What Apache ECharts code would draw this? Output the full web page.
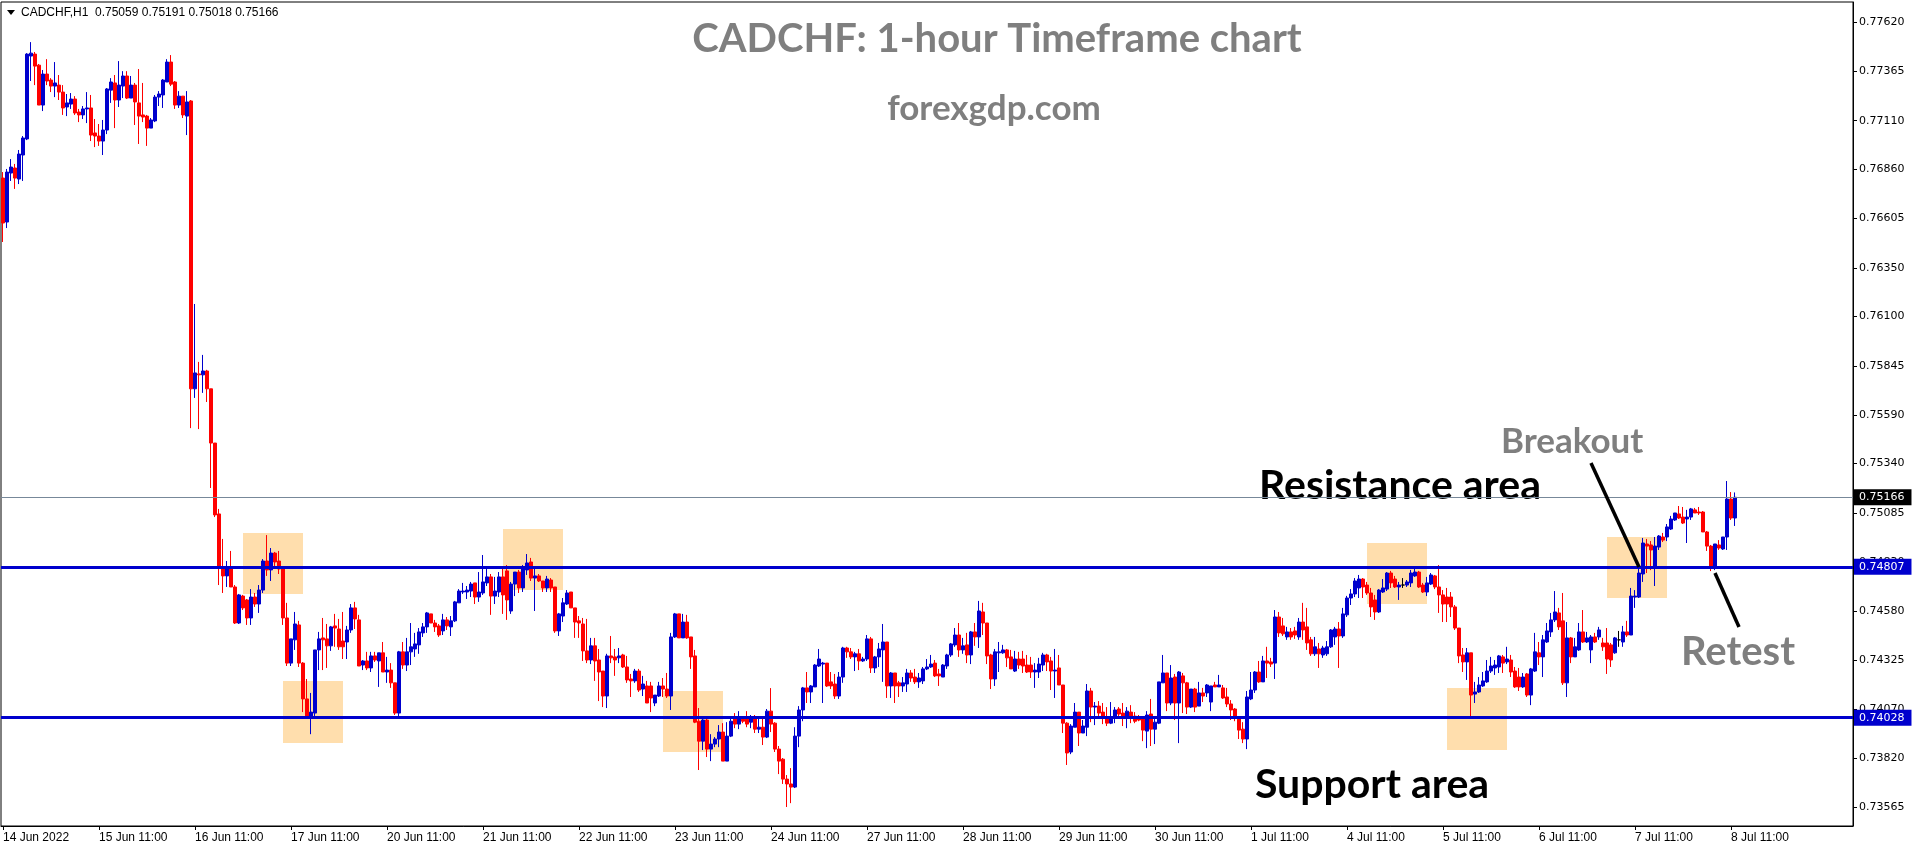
<!DOCTYPE html>
<html>
<head>
<meta charset="utf-8">
<script src="https://cdn.jsdelivr.net/npm/echarts/dist/echarts.min.js"></script>
<style>
html,body{margin:0;padding:0;background:#fff;}
#chart{width:1916px;height:850px;}
</style>
</head>
<body>
<div id="chart"></div>
<script>
// ---- Data (CADCHF H1, 14 Jun 2022 11:00 .. 8 Jul 2022 12:00) ----
const symbol = 'CADCHF,H1';
const tickLabels = ['14 Jun 2022','15 Jun 11:00','16 Jun 11:00','17 Jun 11:00','20 Jun 11:00','21 Jun 11:00','22 Jun 11:00','23 Jun 11:00','24 Jun 11:00','27 Jun 11:00','28 Jun 11:00','29 Jun 11:00','30 Jun 11:00','1 Jul 11:00','4 Jul 11:00','5 Jul 11:00','6 Jul 11:00','7 Jul 11:00','8 Jul 11:00'];
const priceTicks = [0.77620,0.77365,0.77110,0.76860,0.76605,0.76350,0.76100,0.75845,0.75590,0.75340,0.75085,0.74830,0.74580,0.74325,0.74070,0.73820,0.73565];
const resistanceLevel = 0.74807;
const supportLevel = 0.74028;

const open = [
0.76814,0.76587,0.76840,0.76866,0.76809,0.76933,0.77016,0.77444,0.77454,0.77397,
0.77191,0.77351,0.77320,0.77289,0.77294,0.77258,0.77181,0.77196,0.77222,0.77155,
0.77140,0.77171,0.77176,0.77047,0.77031,0.77005,0.77062,0.77268,0.77305,0.77217,
0.77289,0.77341,0.77227,0.77294,0.77202,0.77140,0.77134,0.77072,0.77109,0.77232,
0.77243,0.77310,0.77413,0.77310,0.77191,0.77237,0.77134,0.77212,0.75726,0.75803,
0.75798,0.75818,0.75726,0.75446,0.75080,0.74806,0.74760,0.74801,0.74703,0.74517,
0.74656,0.74636,0.74543,0.74651,0.74615,0.74687,0.74837,0.74791,0.74878,0.74837,
0.74801,0.74543,0.74310,0.74430,0.74507,0.74310,0.74125,0.74036,0.74052,0.74378,
0.74440,0.74435,0.74399,0.74502,0.74486,0.74424,0.74419,0.74481,0.74595,0.74533,
0.74300,0.74321,0.74285,0.74347,0.74321,0.74363,0.74264,0.74274,0.74208,0.74052,
0.74368,0.74300,0.74368,0.74383,0.74404,0.74466,0.74497,0.74564,0.74517,0.74502,
0.74476,0.74533,0.74497,0.74528,0.74621,0.74677,0.74677,0.74682,0.74724,0.74651,
0.74672,0.74724,0.74755,0.74656,0.74677,0.74755,0.74786,0.74579,0.74718,0.74780,
0.74698,0.74791,0.74832,0.74749,0.74760,0.74734,0.74698,0.74739,0.74703,0.74476,
0.74553,0.74615,0.74677,0.74595,0.74528,0.74512,0.74373,0.74326,0.74399,0.74326,
0.74269,0.74140,0.74347,0.74342,0.74337,0.74352,0.74290,0.74228,0.74218,0.74269,
0.74176,0.74192,0.74192,0.74104,0.74140,0.74192,0.74176,0.74140,0.74445,0.74564,
0.74440,0.74522,0.74445,0.74347,0.74010,0.73907,0.74016,0.73866,0.73892,0.73918,
0.73954,0.73804,0.73933,0.74021,0.73995,0.74021,0.74021,0.74005,0.74026,0.73969,
0.73979,0.73928,0.74062,0.74000,0.73866,0.73814,0.73711,0.73686,0.73670,0.73933,
0.74068,0.74182,0.74161,0.74187,0.74295,0.74305,0.74310,0.74213,0.74202,0.74140,
0.74238,0.74388,0.74368,0.74342,0.74358,0.74321,0.74331,0.74435,0.74285,0.74342,
0.74378,0.74419,0.74192,0.74259,0.74208,0.74192,0.74202,0.74259,0.74238,0.74213,
0.74218,0.74280,0.74290,0.74310,0.74254,0.74238,0.74295,0.74352,0.74404,0.74455,
0.74378,0.74404,0.74352,0.74471,0.74445,0.74574,0.74517,0.74352,0.74228,0.74363,
0.74363,0.74378,0.74342,0.74269,0.74331,0.74331,0.74300,0.74300,0.74264,0.74264,
0.74300,0.74352,0.74321,0.74269,0.74285,0.74197,0.74000,0.73851,0.73979,0.74057,
0.73949,0.73979,0.74166,0.74083,0.74088,0.74057,0.74031,0.74000,0.74031,0.74073,
0.74052,0.74036,0.74057,0.74036,0.74021,0.74021,0.73959,0.74047,0.73969,0.74000,
0.74208,0.74259,0.74104,0.74238,0.74104,0.74244,0.74208,0.74083,0.74176,0.74088,
0.74156,0.74156,0.74109,0.74197,0.74187,0.74182,0.74135,0.74099,0.74073,0.74021,
0.73969,0.73918,0.74125,0.74171,0.74264,0.74213,0.74321,0.74316,0.74310,0.74548,
0.74502,0.74445,0.74471,0.74476,0.74445,0.74522,0.74497,0.74430,0.74358,0.74383,
0.74352,0.74358,0.74394,0.74445,0.74486,0.74450,0.74559,0.74646,0.74667,0.74698,
0.74744,0.74713,0.74672,0.74636,0.74574,0.74677,0.74692,0.74775,0.74744,0.74703,
0.74713,0.74713,0.74724,0.74760,0.74780,0.74713,0.74677,0.74718,0.74760,0.74703,
0.74662,0.74651,0.74651,0.74600,0.74491,0.74352,0.74316,0.74363,0.74150,0.74161,
0.74192,0.74213,0.74269,0.74285,0.74290,0.74342,0.74316,0.74326,0.74269,0.74238,
0.74187,0.74254,0.74145,0.74269,0.74363,0.74342,0.74419,0.74471,0.74533,0.74569,
0.74528,0.74208,0.74440,0.74342,0.74378,0.74471,0.74419,0.74378,0.74445,0.74445,
0.74414,0.74414,0.74404,0.74363,0.74430,0.74419,0.74471,0.74455,0.74651,0.74651,
0.74770,0.74925,0.74920,0.74801,0.74909,0.74961,0.74961,0.75002,0.75049,0.75080,
0.75064,0.75054,0.75064,0.75101,0.75090,0.75090,0.74987,0.74914,0.74806,0.74920,
0.74899,0.74961,0.75157,0.75059];

const high = [
0.76845,0.76861,0.76912,0.76887,0.76959,0.77031,0.77459,0.77516,0.77465,0.77403,
0.77372,0.77428,0.77330,0.77413,0.77346,0.77294,0.77248,0.77253,0.77237,0.77171,
0.77186,0.77258,0.77243,0.77119,0.77093,0.77114,0.77279,0.77330,0.77346,0.77418,
0.77366,0.77366,0.77341,0.77305,0.77377,0.77305,0.77140,0.77124,0.77243,0.77263,
0.77325,0.77428,0.77449,0.77315,0.77263,0.77237,0.77263,0.77217,0.76164,0.75865,
0.75901,0.75824,0.75726,0.75446,0.75106,0.74951,0.74837,0.74889,0.74713,0.74667,
0.74662,0.74641,0.74692,0.74672,0.74713,0.74847,0.74971,0.74904,0.74884,0.74889,
0.74801,0.74621,0.74435,0.74574,0.74528,0.74315,0.74228,0.74156,0.74378,0.74471,
0.74543,0.74512,0.74502,0.74564,0.74538,0.74574,0.74502,0.74615,0.74626,0.74559,
0.74326,0.74368,0.74368,0.74368,0.74363,0.74419,0.74342,0.74310,0.74208,0.74373,
0.74419,0.74440,0.74517,0.74466,0.74491,0.74517,0.74574,0.74564,0.74533,0.74512,
0.74564,0.74548,0.74553,0.74631,0.74692,0.74724,0.74708,0.74729,0.74724,0.74780,
0.74868,0.74801,0.74770,0.74755,0.74780,0.74811,0.74816,0.74729,0.74780,0.74791,
0.74816,0.74873,0.74853,0.74806,0.74770,0.74734,0.74760,0.74749,0.74703,0.74569,
0.74646,0.74687,0.74677,0.74595,0.74553,0.74543,0.74538,0.74440,0.74440,0.74383,
0.74269,0.74358,0.74450,0.74383,0.74388,0.74358,0.74347,0.74254,0.74280,0.74280,
0.74244,0.74218,0.74213,0.74145,0.74213,0.74233,0.74259,0.74466,0.74569,0.74564,
0.74564,0.74559,0.74445,0.74378,0.74078,0.74021,0.74026,0.73943,0.73928,0.73990,
0.74000,0.74005,0.74026,0.74052,0.74062,0.74036,0.74062,0.74042,0.74042,0.74031,
0.74026,0.74073,0.74181,0.74005,0.73882,0.73820,0.73732,0.73768,0.73979,0.74088,
0.74187,0.74264,0.74197,0.74305,0.74383,0.74316,0.74310,0.74264,0.74254,0.74264,
0.74394,0.74394,0.74388,0.74368,0.74383,0.74342,0.74455,0.74445,0.74347,0.74414,
0.74512,0.74419,0.74264,0.74259,0.74218,0.74238,0.74280,0.74274,0.74280,0.74259,
0.74290,0.74331,0.74352,0.74326,0.74280,0.74305,0.74358,0.74414,0.74491,0.74517,
0.74440,0.74466,0.74476,0.74517,0.74631,0.74621,0.74517,0.74358,0.74383,0.74419,
0.74404,0.74383,0.74378,0.74373,0.74368,0.74373,0.74352,0.74342,0.74310,0.74337,
0.74363,0.74358,0.74342,0.74383,0.74352,0.74197,0.74005,0.73995,0.74104,0.74057,
0.74016,0.74202,0.74182,0.74109,0.74114,0.74104,0.74083,0.74109,0.74083,0.74083,
0.74104,0.74083,0.74093,0.74057,0.74042,0.74036,0.74062,0.74125,0.74021,0.74213,
0.74352,0.74259,0.74300,0.74254,0.74269,0.74259,0.74213,0.74176,0.74182,0.74213,
0.74182,0.74202,0.74192,0.74213,0.74249,0.74197,0.74182,0.74119,0.74078,0.74021,
0.74005,0.74166,0.74264,0.74269,0.74321,0.74347,0.74394,0.74337,0.74584,0.74574,
0.74543,0.74497,0.74491,0.74497,0.74543,0.74621,0.74595,0.74445,0.74445,0.74414,
0.74399,0.74424,0.74486,0.74497,0.74522,0.74595,0.74657,0.74692,0.74749,0.74765,
0.74749,0.74729,0.74698,0.74662,0.74692,0.74744,0.74780,0.74786,0.74760,0.74729,
0.74749,0.74739,0.74791,0.74801,0.74786,0.74724,0.74755,0.74775,0.74765,0.74816,
0.74687,0.74698,0.74677,0.74610,0.74491,0.74388,0.74388,0.74363,0.74213,0.74238,
0.74264,0.74326,0.74342,0.74326,0.74352,0.74352,0.74394,0.74352,0.74290,0.74285,
0.74259,0.74259,0.74285,0.74466,0.74419,0.74455,0.74517,0.74569,0.74682,0.74595,
0.74672,0.74522,0.74445,0.74440,0.74517,0.74584,0.74471,0.74455,0.74466,0.74497,
0.74440,0.74491,0.74414,0.74445,0.74476,0.74502,0.74528,0.74698,0.74687,0.74816,
0.74956,0.74951,0.74940,0.74961,0.74971,0.74982,0.75028,0.75070,0.75085,0.75121,
0.75116,0.75101,0.75111,0.75111,0.75116,0.75095,0.74992,0.74920,0.74925,0.74945,
0.74961,0.75250,0.75193,0.75191];

const low = [
0.76484,0.76556,0.76799,0.76758,0.76783,0.76799,0.77010,0.77315,0.77294,0.77191,
0.77160,0.77294,0.77258,0.77232,0.77217,0.77140,0.77134,0.77171,0.77140,0.77103,
0.77119,0.77098,0.77005,0.76974,0.76980,0.76933,0.77041,0.77202,0.77072,0.77181,
0.77227,0.77222,0.77227,0.77088,0.76990,0.77103,0.76980,0.77072,0.77103,0.77186,
0.77176,0.77310,0.77289,0.77171,0.77176,0.77124,0.77036,0.75523,0.75679,0.75518,
0.75705,0.75658,0.75214,0.75064,0.74713,0.74672,0.74703,0.74703,0.74512,0.74512,
0.74584,0.74507,0.74507,0.74600,0.74569,0.74672,0.74760,0.74734,0.74806,0.74770,
0.74507,0.74295,0.74295,0.74378,0.74290,0.74057,0.74036,0.73943,0.74031,0.74274,
0.74274,0.74285,0.74373,0.74394,0.74378,0.74331,0.74331,0.74466,0.74486,0.74295,
0.74274,0.74274,0.74264,0.74316,0.74187,0.74264,0.74208,0.74182,0.74042,0.74036,
0.74280,0.74269,0.74300,0.74342,0.74358,0.74445,0.74466,0.74517,0.74471,0.74445,
0.74455,0.74481,0.74450,0.74522,0.74621,0.74667,0.74641,0.74651,0.74615,0.74626,
0.74662,0.74708,0.74559,0.74615,0.74651,0.74564,0.74533,0.74564,0.74656,0.74672,
0.74677,0.74765,0.74734,0.74579,0.74729,0.74677,0.74677,0.74677,0.74466,0.74450,
0.74522,0.74610,0.74595,0.74440,0.74440,0.74321,0.74310,0.74305,0.74218,0.74114,
0.74083,0.74078,0.74310,0.74244,0.74310,0.74285,0.74208,0.74135,0.74208,0.74161,
0.74140,0.74104,0.74057,0.74088,0.74135,0.74135,0.74130,0.74068,0.74440,0.74440,
0.74440,0.74435,0.74280,0.74000,0.73758,0.73861,0.73825,0.73804,0.73876,0.73876,
0.73804,0.73804,0.73928,0.73974,0.73969,0.74000,0.73979,0.73974,0.73949,0.73949,
0.73887,0.73923,0.73954,0.73851,0.73737,0.73686,0.73567,0.73587,0.73665,0.73876,
0.74010,0.74104,0.74104,0.74187,0.74290,0.74104,0.74187,0.74176,0.74125,0.74125,
0.74208,0.74337,0.74331,0.74269,0.74274,0.74316,0.74321,0.74259,0.74259,0.74290,
0.74213,0.74130,0.74130,0.74104,0.74135,0.74161,0.74161,0.74213,0.74202,0.74182,
0.74202,0.74274,0.74285,0.74238,0.74192,0.74238,0.74280,0.74342,0.74394,0.74342,
0.74358,0.74310,0.74305,0.74399,0.74388,0.74455,0.74305,0.74176,0.74192,0.74264,
0.74358,0.74290,0.74280,0.74264,0.74280,0.74259,0.74259,0.74233,0.74182,0.74233,
0.74269,0.74269,0.74171,0.74130,0.74197,0.73949,0.73784,0.73840,0.73979,0.73882,
0.73949,0.73933,0.74005,0.73990,0.74026,0.73995,0.73985,0.73995,0.74000,0.74031,
0.73985,0.73974,0.74000,0.74000,0.74010,0.73907,0.73871,0.73882,0.73892,0.73995,
0.74208,0.74062,0.74093,0.74016,0.73897,0.74052,0.74047,0.74078,0.74057,0.74088,
0.74109,0.74135,0.74062,0.74187,0.74187,0.74125,0.74083,0.74016,0.74010,0.73918,
0.73897,0.73866,0.74119,0.74156,0.74208,0.74213,0.74233,0.74290,0.74228,0.74445,
0.74450,0.74430,0.74430,0.74435,0.74430,0.74430,0.74378,0.74347,0.74347,0.74285,
0.74337,0.74347,0.74388,0.74404,0.74285,0.74440,0.74548,0.74610,0.74651,0.74646,
0.74646,0.74662,0.74548,0.74533,0.74569,0.74672,0.74682,0.74698,0.74698,0.74636,
0.74698,0.74703,0.74703,0.74755,0.74698,0.74672,0.74656,0.74713,0.74692,0.74569,
0.74522,0.74522,0.74548,0.74481,0.74310,0.74264,0.74223,0.74031,0.74104,0.74156,
0.74187,0.74208,0.74259,0.74249,0.74259,0.74259,0.74305,0.74238,0.74182,0.74166,
0.74182,0.74135,0.74093,0.74264,0.74300,0.74238,0.74414,0.74445,0.74522,0.74481,
0.74197,0.74135,0.74310,0.74342,0.74373,0.74414,0.74414,0.74310,0.74414,0.74430,
0.74373,0.74254,0.74290,0.74358,0.74394,0.74394,0.74445,0.74455,0.74595,0.74646,
0.74729,0.74775,0.74790,0.74708,0.74894,0.74935,0.74940,0.74997,0.75044,0.75054,
0.75028,0.74930,0.75049,0.75085,0.75075,0.74987,0.74889,0.74785,0.74790,0.74894,
0.74894,0.74894,0.75049,0.75018];

const close = [
0.76582,0.76845,0.76871,0.76814,0.76938,0.77021,0.77454,0.77459,0.77392,0.77191,
0.77351,0.77315,0.77289,0.77305,0.77258,0.77176,0.77202,0.77222,0.77150,0.77140,
0.77171,0.77176,0.77036,0.77031,0.77005,0.77062,0.77274,0.77310,0.77217,0.77294,
0.77341,0.77227,0.77294,0.77207,0.77134,0.77129,0.77072,0.77114,0.77232,0.77248,
0.77320,0.77413,0.77299,0.77191,0.77237,0.77140,0.77207,0.75726,0.75808,0.75798,
0.75818,0.75726,0.75446,0.75075,0.74806,0.74760,0.74801,0.74703,0.74517,0.74662,
0.74595,0.74543,0.74651,0.74615,0.74687,0.74837,0.74791,0.74878,0.74832,0.74796,
0.74543,0.74310,0.74435,0.74512,0.74310,0.74125,0.74036,0.74057,0.74378,0.74435,
0.74430,0.74399,0.74497,0.74491,0.74394,0.74394,0.74481,0.74595,0.74538,0.74295,
0.74321,0.74285,0.74347,0.74326,0.74363,0.74264,0.74274,0.74208,0.74052,0.74368,
0.74300,0.74368,0.74394,0.74409,0.74471,0.74497,0.74569,0.74517,0.74497,0.74455,
0.74533,0.74502,0.74528,0.74626,0.74682,0.74682,0.74687,0.74718,0.74651,0.74677,
0.74729,0.74755,0.74656,0.74682,0.74755,0.74662,0.74636,0.74718,0.74780,0.74698,
0.74796,0.74827,0.74749,0.74760,0.74734,0.74698,0.74744,0.74698,0.74476,0.74564,
0.74621,0.74672,0.74595,0.74522,0.74517,0.74373,0.74326,0.74399,0.74321,0.74264,
0.74140,0.74347,0.74337,0.74326,0.74347,0.74290,0.74223,0.74218,0.74269,0.74171,
0.74202,0.74104,0.74130,0.74145,0.74192,0.74176,0.74140,0.74445,0.74564,0.74440,
0.74522,0.74440,0.74342,0.74005,0.73907,0.74016,0.73866,0.73892,0.73918,0.73954,
0.73804,0.73933,0.74010,0.73995,0.74021,0.74010,0.73995,0.74026,0.73969,0.73979,
0.73928,0.74062,0.73995,0.73866,0.73804,0.73711,0.73686,0.73670,0.73933,0.74068,
0.74182,0.74161,0.74192,0.74300,0.74331,0.74310,0.74192,0.74192,0.74140,0.74238,
0.74388,0.74368,0.74342,0.74358,0.74321,0.74331,0.74435,0.74285,0.74342,0.74383,
0.74419,0.74192,0.74259,0.74192,0.74192,0.74208,0.74259,0.74233,0.74213,0.74233,
0.74280,0.74290,0.74305,0.74244,0.74244,0.74300,0.74352,0.74409,0.74455,0.74378,
0.74399,0.74352,0.74471,0.74445,0.74579,0.74517,0.74347,0.74228,0.74368,0.74368,
0.74378,0.74337,0.74280,0.74331,0.74300,0.74295,0.74264,0.74264,0.74274,0.74305,
0.74352,0.74316,0.74269,0.74274,0.74197,0.74000,0.73846,0.73985,0.74057,0.73949,
0.73985,0.74166,0.74083,0.74088,0.74052,0.74026,0.74000,0.74031,0.74068,0.74047,
0.74031,0.74062,0.74031,0.74010,0.74016,0.73964,0.74042,0.73969,0.74005,0.74213,
0.74259,0.74104,0.74233,0.74104,0.74264,0.74208,0.74083,0.74176,0.74083,0.74156,
0.74140,0.74197,0.74192,0.74187,0.74197,0.74130,0.74099,0.74068,0.74026,0.73964,
0.73918,0.74135,0.74171,0.74264,0.74213,0.74321,0.74310,0.74305,0.74548,0.74466,
0.74461,0.74471,0.74445,0.74455,0.74522,0.74481,0.74414,0.74358,0.74394,0.74358,
0.74388,0.74394,0.74481,0.74486,0.74450,0.74564,0.74646,0.74667,0.74734,0.74744,
0.74703,0.74672,0.74600,0.74574,0.74687,0.74698,0.74775,0.74724,0.74703,0.74713,
0.74713,0.74729,0.74775,0.74780,0.74703,0.74677,0.74724,0.74765,0.74703,0.74662,
0.74615,0.74615,0.74600,0.74491,0.74347,0.74316,0.74363,0.74145,0.74161,0.74197,
0.74218,0.74269,0.74295,0.74300,0.74347,0.74310,0.74331,0.74264,0.74187,0.74187,
0.74238,0.74145,0.74280,0.74368,0.74342,0.74430,0.74476,0.74533,0.74574,0.74497,
0.74208,0.74440,0.74342,0.74394,0.74471,0.74419,0.74440,0.74445,0.74419,0.74481,
0.74394,0.74331,0.74326,0.74440,0.74430,0.74471,0.74455,0.74656,0.74656,0.74775,
0.74930,0.74914,0.74894,0.74914,0.74966,0.74945,0.75013,0.75054,0.75085,0.75059,
0.75033,0.75064,0.75106,0.75085,0.75085,0.74987,0.74914,0.74806,0.74925,0.74904,
0.74961,0.75157,0.75059,0.75166];

// annotation zones: [startBar, endBar, topPrice, bottomPrice]
const zones = [
  [60, 75, 0.74982, 0.74667],
  [70, 85, 0.74218, 0.73898],
  [125, 140, 0.75002, 0.74687],
  [165, 180, 0.74166, 0.73851],
  [341, 356, 0.74930, 0.74615],
  [361, 376, 0.74181, 0.73861],
  [401, 416, 0.74961, 0.74646]
];
// pointer lines: [[bar, price], [bar, price]]
const pointers = [
  [[397, 0.75343], [409, 0.74806]],
  [[428, 0.74775], [434, 0.74496]]
];

// ---- Build ----
const BARS_PER_DAY = 24;
const SLOTS = 463; // bars + empty chart-shift space on the right
const categories = Array.from({length: SLOTS}, (_, i) => String(i));
const last = close.length - 1;
const lastPrice = close[last];
const ohlc = open.map((o, i) => [o, close[i], low[i], high[i]]);
const showTick = (i) => i % BARS_PER_DAY === 0 && (i / BARS_PER_DAY) < tickLabels.length;

const BLUE = '#0000CD', RED = '#FF0000';
const xFont = {fontFamily: '"Liberation Sans", Arial, sans-serif', fontSize: 12, color: '#000'};
const yFont = {fontFamily: '"DejaVu Sans", Verdana, sans-serif', fontSize: 11, color: '#000'};
const tag = (bg) => ({
  show: true, position: 'end', distance: 1,
  backgroundColor: bg, color: '#fff', padding: [2, 7, 2, 5],
  fontFamily: yFont.fontFamily, fontSize: 11, lineHeight: 12
});

const chart = echarts.init(document.getElementById('chart'), null, {renderer: 'canvas'});
chart.setOption({
  animation: false,
  backgroundColor: '#fff',
  grid: {left: 1, top: 2, width: 1852, height: 824, show: true, borderColor: '#000', borderWidth: 1, backgroundColor: 'transparent'},
  xAxis: {
    type: 'category', data: categories, boundaryGap: true,
    axisLine: {show: true, lineStyle: {color: '#000', width: 1}},
    axisTick: {show: true, interval: showTick, alignWithLabel: true, length: 4, lineStyle: {color: '#000'}},
    axisLabel: Object.assign({interval: showTick, align: 'left', margin: 6,
      formatter: (v) => tickLabels[Number(v) / BARS_PER_DAY]}, xFont),
    splitLine: {show: false}
  },
  yAxis: {
    type: 'value', position: 'right', min: 0.73469, max: 0.77723, scale: true,
    axisLine: {show: true, lineStyle: {color: '#000', width: 1}},
    axisTick: {show: true, customValues: priceTicks, length: 4, lineStyle: {color: '#000'}},
    axisLabel: Object.assign({customValues: priceTicks, margin: 6, formatter: (v) => v.toFixed(5)}, yFont),
    splitLine: {show: false}
  },
  series: [{
    type: 'candlestick',
    data: ohlc,
    barWidth: 3,
    large: false,
    itemStyle: {color: BLUE, color0: RED, borderColor: BLUE, borderColor0: RED, borderWidth: 1, borderColorDoji: '#000'},
    markArea: {
      silent: true,
      itemStyle: {color: '#FFDEAD', opacity: 1},
      data: zones.map(z => [{xAxis: z[0], yAxis: z[2]}, {xAxis: z[1], yAxis: z[3]}])
    },
    markLine: {
      silent: true, symbol: 'none', animation: false, precision: 5,
      data: [
        {yAxis: lastPrice, lineStyle: {color: '#778899', width: 1, type: 'solid'},
         label: Object.assign(tag('#000'), {formatter: lastPrice.toFixed(5)})},
        {yAxis: resistanceLevel, lineStyle: {color: BLUE, width: 3, type: 'solid'},
         label: Object.assign(tag(BLUE), {formatter: resistanceLevel.toFixed(5)})},
        {yAxis: supportLevel, lineStyle: {color: BLUE, width: 3, type: 'solid'},
         label: Object.assign(tag(BLUE), {formatter: supportLevel.toFixed(5)})}
      ].concat(pointers.map(p => [
        {coord: [p[0][0], p[0][1]], lineStyle: {color: '#000', width: 3.5, type: 'solid'}, label: {show: false}},
        {coord: [p[1][0], p[1][1]]}
      ]))
    }
  }],
  graphic: [
    {type: 'polygon', shape: {points: [[7, 10], [15, 10], [11, 15]]}, style: {fill: '#000'}},
    {type: 'text', x: 21, y: 13, style: {
      text: symbol + '  ' + [open[last], high[last], low[last], close[last]].map(v => v.toFixed(5)).join(' '),
      font: '12px "Liberation Sans", Arial, sans-serif', fill: '#000', verticalAlign: 'middle'}},
    {type: 'text', x: 997, y: 39, style: {text: 'CADCHF: 1-hour Timeframe chart',
      font: 'bold 40px Lato, "Open Sans", sans-serif', fill: '#7F7F7F', align: 'center', verticalAlign: 'middle'}},
    {type: 'text', x: 994, y: 109, style: {text: 'forexgdp.com',
      font: 'bold 35px Lato, "Open Sans", sans-serif', fill: '#7F7F7F', align: 'center', verticalAlign: 'middle'}},
    {type: 'text', x: 1259, y: 486, style: {text: 'Resistance area',
      font: 'bold 41px Lato, "Open Sans", sans-serif', fill: '#000', verticalAlign: 'middle'}},
    {type: 'text', x: 1255, y: 785, style: {text: 'Support area',
      font: 'bold 41px Lato, "Open Sans", sans-serif', fill: '#000', verticalAlign: 'middle'}},
    {type: 'text', x: 1501, y: 442, style: {text: 'Breakout',
      font: 'bold 35px Lato, "Open Sans", sans-serif', fill: '#7F7F7F', verticalAlign: 'middle'}},
    {type: 'text', x: 1738, y: 652, style: {text: 'Retest',
      font: 'bold 40px Lato, "Open Sans", sans-serif', fill: '#7F7F7F', align: 'center', verticalAlign: 'middle'}}
  ]
});
</script>
</body>
</html>
